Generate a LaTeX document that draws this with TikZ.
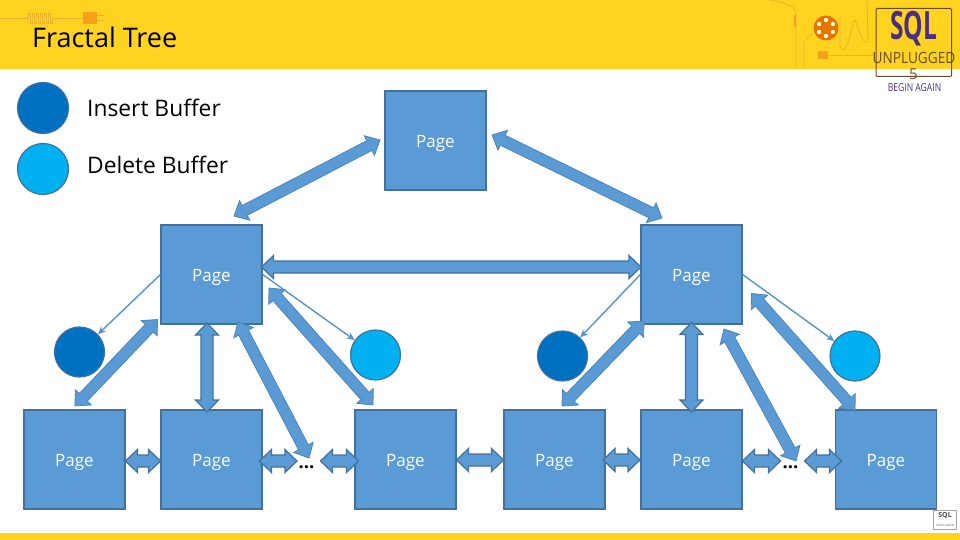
\documentclass[tikz,border=0pt]{standalone}
\usepackage{fontspec}
\setmainfont{Open Sans}
\usetikzlibrary{calc, positioning, arrows.meta}
\definecolor{bandyellow}{HTML}{FFD320}
\definecolor{pageblue}{HTML}{5B9BD5}
\definecolor{pageline}{HTML}{41719C}
\definecolor{insertblue}{HTML}{0070C0}
\definecolor{deleteblue}{HTML}{00B0F0}
\definecolor{wireorange}{HTML}{EBB22A}
\definecolor{plugorange}{HTML}{F7A11A}
\definecolor{logopurple}{HTML}{4B2E83}
\definecolor{logobrown}{HTML}{6B4A2A}
\newcommand{\hdlen}{12pt}
\tikzset{
    page/.style={draw=pageline,line width=1.2pt,fill=pageblue,minimum width=101pt,minimum height=99pt,
        inner sep=0pt,text=white,text height=14pt,text depth=0pt,font=\fontsize{17}{20}\selectfont},
    buffer/.style={circle,draw=pageline,line width=1.2pt,minimum size=50pt,inner sep=0pt},
    insertbuf/.style={buffer,fill=insertblue},
    deletebuf/.style={buffer,fill=deleteblue},
    legend/.style={font=\fontsize{22.8}{26}\selectfont,anchor=base west,inner sep=0pt},
    dots/.style={font=\bfseries\fontsize{18.5}{20}\selectfont,anchor=base,inner sep=0pt},
    wire/.style={wireorange,line width=.8pt},
    % block arrow with a head at both ends, #1 = half body width, #2 = half head width
    block/.style n args={2}{fill=pageblue,line join=miter,
        to path={
            -- ($(\tikztostart)!\hdlen!(\tikztotarget)!#2!90:(\tikztotarget)$)
            -- ($(\tikztostart)!\hdlen!(\tikztotarget)!#1!90:(\tikztotarget)$)
            -- ($(\tikztotarget)!\hdlen!(\tikztostart)!#1!-90:(\tikztostart)$)
            -- ($(\tikztotarget)!\hdlen!(\tikztostart)!#2!-90:(\tikztostart)$)
            -- (\tikztotarget)
            -- ($(\tikztotarget)!\hdlen!(\tikztostart)!#2!90:(\tikztostart)$)
            -- ($(\tikztotarget)!\hdlen!(\tikztostart)!#1!90:(\tikztostart)$)
            -- ($(\tikztostart)!\hdlen!(\tikztotarget)!#1!-90:(\tikztotarget)$)
            -- ($(\tikztostart)!\hdlen!(\tikztotarget)!#2!-90:(\tikztotarget)$)
            -- cycle}},
    slantblock/.style={block={5.5pt}{11pt},draw=pageline!55!pageblue,line width=.8pt},
    straightblock/.style={block={6pt}{11.5pt},draw=pageline,line width=1.2pt},
    thinarrow/.style={draw=pageblue!95!black,line width=1.4pt,-{Stealth[length=8pt,width=7pt]}},
}
\begin{document}
\begin{tikzpicture}[x=1pt,y=-1pt]
    \useasboundingbox (0,0) rectangle (960,540);
    % bands
    \fill[bandyellow] (0,0) rectangle (960,69);
    \fill[bandyellow] (0,533) rectangle (960,540);
    % wires in the band
    \draw[wire] (0,18) -- (28,18)
        \foreach \i in {0,...,5} {-- ++(0,-5) -- ++(2,0) -- ++(0,10) -- ++(2,0) -- ++(0,-5)} -- (84,18);
    \fill[plugorange] (83,12) rectangle (97,24);
    \draw[wire] (97,15) -- (105,15) (97,20) -- (105,20);
    \draw[wire] (770,0) .. controls (785,3) and (795,5) .. (796,14) -- (796,68);
    \draw[wire] (804,68) -- (804,42) -- (812,33);
    \draw[wire] (840,17) -- (840,47) .. controls (847,57) and (849,35) .. (855,20)
        .. controls (860,30) and (861,44) .. (868,42) -- (867,0);
    \draw[wire] (828,55) -- (874,55);
    \fill[plugorange] (818,51) rectangle (828,59);
    \draw[wire,line width=2pt,plugorange] (795,15) -- (795,27);
    \fill[orange!90!black] (826,28) circle (12.5pt);
    \foreach \a in {30,90,...,330} \fill[white!80!yellow] (826,28) ++(\a:8) circle (2.2pt);
    % logo
    \draw[logobrown,line width=1pt,rounded corners=1pt] (876,8.5) rectangle (951.5,76.5);
    \node[font=\bfseries\fontsize{39}{39}\selectfont,text=logopurple,inner sep=0pt] (sqlmark) at (913.5,29) {\scalebox{.63}[1]{SQL}};
    \node[font=\fontsize{15.5}{16}\selectfont,text=logobrown,inner sep=0pt] (unplugged) at (914,58) {\scalebox{.88}[1]{UNPLUGGED}};
    \node[font=\fontsize{15}{16}\selectfont,text=logobrown,inner sep=0pt] (edition) at (913.5,74.5) {5};
    \node[font=\fontsize{11}{12}\selectfont,text=logopurple,inner sep=0pt] (begin) at (914.5,88) {\scalebox{.78}[1]{BEGIN AGAIN}};
    % small logo bottom right
    \fill[white] (932,509) rectangle (958,530);
    \draw[black!35,line width=.4pt] (933,510) rectangle (956,529);
    \node[font=\bfseries\fontsize{7}{7}\selectfont,text=black!70,inner sep=0pt] (sqlsmall) at (945,516) {SQL};
    \node[font=\fontsize{3}{4}\selectfont,text=black!60,inner sep=0pt] (unpsmall) at (945,525) {UNPLUGGED};
    % title and legend
    \node[legend,font=\fontsize{27}{30}\selectfont] (title) at (32,47.5) {Fractal Tree};
    \node[insertbuf,minimum size=51pt] (legendins) at (43,108) {};
    \node[deletebuf,minimum size=51pt] (legenddel) at (43,169) {};
    \node[legend] (instext) at (87,116.7) {Insert Buffer};
    \node[legend] (deltext) at (87,173.8) {Delete Buffer};
    % pages
    \node[page] (root) at (435.5,140.5) {Page};
    \node[page] (midl) at (211.5,274.5) {Page};
    \node[page] (midr) at (691.5,274.5) {Page};
    \node[page] (leafa) at (74.5,459.5) {Page};
    \node[page] (leafb) at (211.5,459.5) {Page};
    \node[page] (leafc) at (405.5,459.5) {Page};
    \node[page] (leafd) at (554.5,459.5) {Page};
    \node[page] (leafe) at (691.5,459.5) {Page};
    \node[page] (leaff) at (886,459.5) {Page};
    % buffers
    \node[insertbuf] (insl) at (79.5,352) {};
    \node[deletebuf] (dell) at (375.5,355) {};
    \node[insertbuf] (insr) at (562.5,356) {};
    \node[deletebuf] (delr) at (855,356) {};
    % dots between the leaves
    \node[dots] (dotsl) at (306.5,468) {...};
    \node[dots] (dotsr) at (790.5,468) {...};
    % free ends of the arrows
    \coordinate (rootl) at (380,140);
    \coordinate (rootr) at (492,135);
    \coordinate (midlt) at (234,216);
    \coordinate (midrt) at (662,218);
    \coordinate (la) at (157.5,319.5);
    \coordinate (lb) at (75,406);
    \coordinate (lc) at (207,323);
    \coordinate (ld) at (207,412);
    \coordinate (le) at (238,322);
    \coordinate (lf) at (309,458);
    \coordinate (lg) at (269,288);
    \coordinate (lh) at (373,405);
    \coordinate (ra) at (644,321);
    \coordinate (rb) at (562,406);
    \coordinate (rc) at (691.5,322.5);
    \coordinate (rd) at (691.5,412);
    \coordinate (re) at (724,329);
    \coordinate (rf) at (796,461);
    \coordinate (rg) at (751.5,293.5);
    \coordinate (rh) at (855,410);
    \coordinate (ml) at (261.5,267);
    \coordinate (mr) at (641,267);
    \coordinate (ha) at (125.5,461);
    \coordinate (hb) at (160.5,461);
    \coordinate (hc) at (259.5,461);
    \coordinate (hd) at (297,461);
    \coordinate (he) at (320.5,461);
    \coordinate (hf) at (358.5,461);
    \coordinate (hg) at (456.5,460);
    \coordinate (hh) at (503.5,460);
    \coordinate (hi) at (603,460);
    \coordinate (hj) at (640,460);
    \coordinate (hk) at (742.5,461);
    \coordinate (hl) at (780.5,461);
    \coordinate (hm) at (804.5,461);
    \coordinate (hn) at (841.5,461);
    % long arrows
    \draw[slantblock] (rootl) to (midlt);
    \draw[slantblock] (rootr) to (midrt);
    \draw[straightblock] (ml) to (mr);
    \draw[slantblock] (la) to (lb);
    \draw[straightblock] (lc) to (ld);
    \draw[slantblock] (le) to (lf);
    \draw[slantblock] (lg) to (lh);
    \draw[slantblock] (ra) to (rb);
    \draw[straightblock] (rc) to (rd);
    \draw[slantblock] (re) to (rf);
    \draw[slantblock] (rg) to (rh);
    % short arrows between leaves
    \draw[straightblock] (ha) to (hb);
    \draw[straightblock] (hc) to (hd);
    \draw[straightblock] (he) to (hf);
    \draw[straightblock] (hg) to (hh);
    \draw[straightblock] (hi) to (hj);
    \draw[straightblock] (hk) to (hl);
    \draw[straightblock] (hm) to (hn);
    % thin arrows to the buffers
    \draw[thinarrow] (midl.west) -- (insl);
    \draw[thinarrow] (midl.east) -- (dell);
    \draw[thinarrow] (midr.west) -- (insr);
    \draw[thinarrow] (midr.east) -- (delr);
\end{tikzpicture}
\end{document}
